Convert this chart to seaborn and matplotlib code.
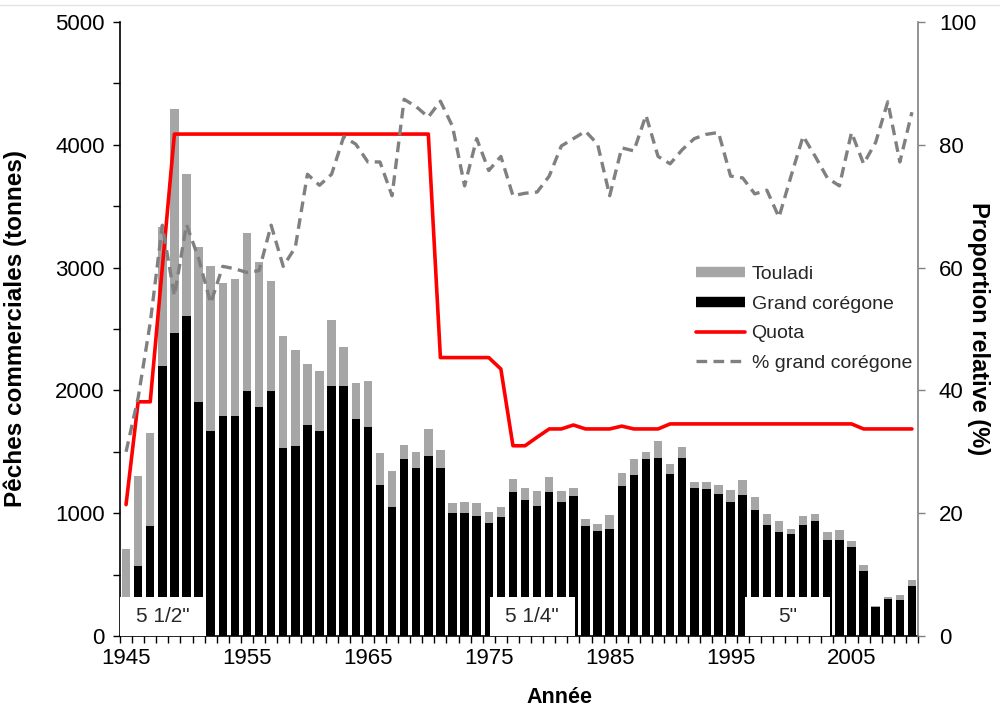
import numpy as np
import pandas as pd
import matplotlib
matplotlib.use("Agg")
import matplotlib.pyplot as plt
import seaborn as sns
from matplotlib.patches import Rectangle
from matplotlib.lines import Line2D
from matplotlib.ticker import MultipleLocator, FixedLocator

# ---------------- data ----------------
years = list(range(1945, 2011))

grand_coregone = [220, 570, 895, 2195, 2465, 2602, 1907, 1666, 1788, 1788,
                  1991, 1863, 1991, 1529, 1549, 1718, 1672, 2035, 2035, 1765,
                  1703, 1230, 1047, 1439, 1366, 1468, 1369, 1003, 1003, 974,
                  919, 968, 1172, 1105, 1061, 1172, 1090, 1137, 895, 858,
                  875, 1221, 1311, 1439, 1448, 1317, 1453, 1209, 1195, 1157,
                  1090, 1148, 1026, 901, 846, 831, 901, 933, 779, 779,
                  727, 526, 233, 299, 291, 407]

touladi = [486, 732, 762, 1135, 1826, 1157, 1262, 1343, 1084, 1116,
           1288, 1184, 896, 913, 780, 497, 488, 538, 320, 299,
           370, 261, 299, 119, 131, 221, 143, 81, 87, 110,
           93, 84, 107, 104, 119, 122, 90, 72, 59, 52,
           108, 105, 128, 58, 139, 81, 82, 44, 58, 73,
           96, 119, 108, 96, 93, 41, 73, 64, 67, 81,
           46, 55, 8, 21, 43, 46]

quota = [1070, 1907, 1907, 3000] + [4087] * 22 + [2267] * 5 + \
        [2174, 1549, 1549, 1619, 1686, 1686, 1718, 1686, 1686, 1686, 1709,
         1686, 1686, 1686] + [1727] * 16 + [1686] * 5

pct_coregone = [30.0, 38.8, 51.0, 66.9, 55.4, 67.0, 61.5, 54.2, 60.2, 59.8,
                59.2, 59.5, 66.9, 60.2, 63.3, 75.2, 73.4, 75.2, 81.3, 80.1,
                77.2, 77.2, 71.7, 87.4, 86.2, 84.5, 87.1, 83.0, 73.3, 81.0,
                75.8, 78.1, 71.7, 72.1, 72.3, 74.9, 79.8, 81.0, 82.2, 80.1,
                71.7, 79.5, 79.0, 84.8, 78.1, 76.9, 79.2, 81.0, 81.7, 82.0,
                74.9, 74.6, 72.0, 72.6, 68.2, 74.9, 81.4, 78.1, 74.6, 73.3,
                82.0, 76.9, 80.4, 87.0, 77.2, 85.3]

tick_years = [1945, 1955, 1965, 1975, 1985, 1995, 2005]
mesh_labels = ['5 1/2"', '5 1/4"', '5"']
mesh_start = [1944.5, 1975.1, 1996.2]
mesh_width = [7.15, 7.0, 7.0]
mesh_height = 320

df = pd.DataFrame({"year": years, "coregone": grand_coregone, "touladi": touladi,
                   "quota": quota, "pct": pct_coregone})
df["total"] = df["coregone"] + df["touladi"]

# ---------------- style ----------------
sns.set_theme(style="ticks")
plt.rcParams["font.family"] = ["Liberation Sans", "DejaVu Sans"]

GREY = "#A6A6A6"
DGREY = "#808080"
TICK_FS = 16

fig = plt.figure(figsize=(10, 7.08), dpi=100)
ax = fig.add_axes([0.12, 0.1017, 0.798, 0.8673])

# thin frame line at the very top of the picture
fig.add_artist(Line2D([0, 1], [0.993, 0.993], transform=fig.transFigure,
                      color="#E3E3E3", lw=1))

sns.barplot(data=df, x="year", y="total", native_scale=True, color=GREY,
            saturation=1, width=0.7, errorbar=None, linewidth=0, ax=ax, zorder=2)
sns.barplot(data=df, x="year", y="coregone", native_scale=True, color="black",
            saturation=1, width=0.7, errorbar=None, linewidth=0, ax=ax, zorder=3)
sns.lineplot(data=df, x="year", y="quota", color="#FF0000", lw=2.6, ax=ax,
             zorder=6, estimator=None)

for lab, x0, w in zip(mesh_labels, mesh_start, mesh_width):
    ax.add_patch(Rectangle((x0, 0), w, mesh_height, facecolor="white",
                           edgecolor="none", zorder=5, clip_on=False))
    ax.text(x0 + w / 2, mesh_height / 2, lab, ha="center", va="center",
            fontsize=15, color="#262626", zorder=7)

ax.set_xlim(1944.5, 2010.5)
ax.set_ylim(0, 5000)
ax.xaxis.set_major_locator(FixedLocator(tick_years))
ax.set_xticklabels([str(y) for y in tick_years])
ax.xaxis.set_minor_locator(FixedLocator(np.arange(1944.5, 2011, 1.0)))
ax.yaxis.set_major_locator(MultipleLocator(1000))
ax.yaxis.set_minor_locator(MultipleLocator(500))
ax.tick_params(axis="x", which="major", length=0, pad=9, labelsize=TICK_FS, colors="black")
ax.tick_params(axis="x", which="minor", length=5, width=1, direction="out", color="black")
ax.tick_params(axis="y", which="both", length=5, width=1, direction="out",
               labelsize=TICK_FS, colors="black", pad=6)
for s in ["top", "right"]:
    ax.spines[s].set_visible(False)
for s in ["left", "bottom"]:
    ax.spines[s].set_color("black")
    ax.spines[s].set_linewidth(1.2)

ax.set_xlabel("Année", fontsize=15.5, fontweight="bold", color="black")
ax.xaxis.set_label_coords(0.551, -0.083)
ax.set_ylabel("Pêches commerciales (tonnes)", fontsize=17.5, fontweight="bold", color="black")
ax.yaxis.set_label_coords(-0.117, 0.5)

ax2 = ax.twinx()
sns.lineplot(data=df, x="year", y="pct", color=DGREY, lw=2.4, ax=ax2,
             linestyle=(0, (3.2, 1.9)), estimator=None)
ax2.set_ylim(0, 100)
ax2.set_xlim(1944.5, 2010.5)
ax2.yaxis.set_major_locator(MultipleLocator(20))
ax2.tick_params(axis="y", which="both", length=5, width=1, direction="out",
                labelsize=TICK_FS, color=DGREY, labelcolor="black", pad=10)
for s in ["top", "left", "bottom"]:
    ax2.spines[s].set_visible(False)
ax2.spines["right"].set_color(DGREY)
ax2.spines["right"].set_linewidth(1.2)
ax2.set_ylabel("Proportion relative (%)", fontsize=17, fontweight="bold",
               rotation=270, color="black")
ax2.yaxis.set_label_coords(1.09, 0.5)

handles = [Line2D([0], [0], color=GREY, lw=7.5, solid_capstyle="butt"),
           Line2D([0], [0], color="black", lw=7.5, solid_capstyle="butt"),
           Line2D([0], [0], color="#FF0000", lw=2.6),
           Line2D([0], [0], color=DGREY, lw=2.4, linestyle=(0, (3.2, 1.9)))]
labels = ["Touladi", "Grand corégone", "Quota", "% grand corégone"]
ax2.legend(handles, labels, loc="upper left", bbox_to_anchor=(0.70, 0.632),
           frameon=False, fontsize=14, handlelength=2.5, handletextpad=0.35,
           labelspacing=0.62)

fig.savefig("out.png", dpi=100)
